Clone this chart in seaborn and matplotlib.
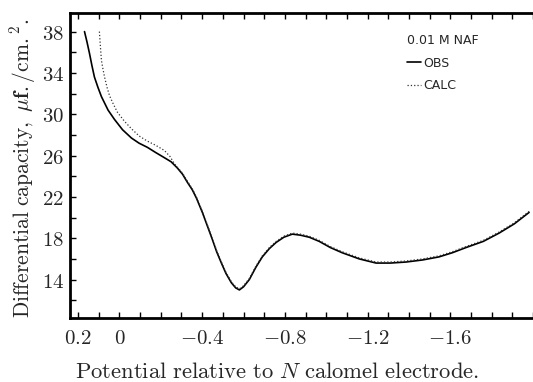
import matplotlib
matplotlib.use("Agg")
import matplotlib.pyplot as plt
from matplotlib.ticker import FixedLocator, MultipleLocator
import seaborn as sns
import pandas as pd

# observed curve (potential vs N calomel, capacity uF/cm2)
obs_potential = [0.169, 0.157, 0.145, 0.133, 0.121, 0.104, 0.087, 0.055, 0.024,
                 -0.015, -0.058, -0.095, -0.135, -0.175, -0.217, -0.250, -0.280,
                 -0.305, -0.329, -0.352, -0.372, -0.401, -0.425, -0.449, -0.470,
                 -0.493, -0.515, -0.541, -0.562, -0.580, -0.600, -0.628, -0.660,
                 -0.691, -0.725, -0.758, -0.795, -0.836, -0.875, -0.918, -0.966,
                 -1.020, -1.077, -1.160, -1.241, -1.310, -1.386, -1.466, -1.546,
                 -1.610, -1.676, -1.760, -1.836, -1.910, -1.981]
obs_capacity = [38.0, 37.0, 35.9, 34.7, 33.6, 32.6, 31.7, 30.4, 29.5,
                28.5, 27.7, 27.2, 26.8, 26.3, 25.8, 25.4, 24.8,
                24.2, 23.4, 22.7, 21.9, 20.5, 19.2, 17.9, 16.7,
                15.6, 14.6, 13.7, 13.2, 13.0, 13.3, 14.0, 15.2,
                16.2, 17.0, 17.6, 18.1, 18.4, 18.3, 18.1, 17.7,
                17.1, 16.6, 16.0, 15.6, 15.6, 15.7, 15.9, 16.2,
                16.6, 17.1, 17.7, 18.5, 19.4, 20.5]

# calculated curve
calc_potential = [0.097, 0.092, 0.087, 0.080, 0.072, 0.060, 0.048, 0.030, 0.010,
                  -0.025, -0.058, -0.095, -0.135, -0.175, -0.217, -0.245, -0.266,
                  -0.305, -0.329, -0.352, -0.372, -0.401, -0.425, -0.449, -0.470,
                  -0.493, -0.515, -0.541, -0.562, -0.580, -0.600, -0.628, -0.660,
                  -0.691, -0.725, -0.758, -0.795, -0.836, -0.875, -0.918, -0.966,
                  -1.020, -1.077, -1.160, -1.241, -1.310, -1.386, -1.466, -1.546,
                  -1.610, -1.676, -1.760, -1.836, -1.910, -1.981]
calc_capacity = [38.0, 36.5, 35.2, 34.4, 33.6, 32.6, 31.8, 31.0, 30.2,
                 29.3, 28.6, 27.9, 27.4, 27.0, 26.5, 25.9, 25.2,
                 24.3, 23.5, 22.8, 22.0, 20.6, 19.3, 18.0, 16.8,
                 15.7, 14.7, 13.8, 13.3, 13.1, 13.4, 14.1, 15.3,
                 16.3, 17.1, 17.7, 18.2, 18.5, 18.4, 18.2, 17.8,
                 17.2, 16.7, 16.1, 15.7, 15.7, 15.8, 16.0, 16.3,
                 16.7, 17.2, 17.8, 18.6, 19.5, 20.6]

xtick_values = [0.2, 0, -0.4, -0.8, -1.2, -1.6]
xtick_labels = [r"$0.2$", r"$0$", r"$-0.4$", r"$-0.8$", r"$-1.2$", r"$-1.6$"]
ytick_values = [14, 18, 22, 26, 30, 34, 38]

sns.set_style("ticks")
plt.rcParams["font.family"] = ["DejaVu Sans"]
plt.rcParams["mathtext.fontset"] = "cm"

obs = pd.DataFrame({"E": obs_potential, "C": obs_capacity})
calc = pd.DataFrame({"E": calc_potential, "C": calc_capacity})

fig = plt.figure(figsize=(5.33, 3.82), dpi=100)
ax = fig.add_axes([0.131, 0.168, 0.869, 0.798])

sns.lineplot(data=obs, x="E", y="C", sort=False, estimator=None, ax=ax,
             color="black", linewidth=1.2, label="OBS")
sns.lineplot(data=calc, x="E", y="C", sort=False, estimator=None, ax=ax,
             color="#333333", linewidth=0.9, linestyle=":", label="CALC")

ax.set_xlim(0.24, -2.0)
ax.set_ylim(10.3, 39.8)

ax.xaxis.set_major_locator(FixedLocator(xtick_values))
ax.xaxis.set_minor_locator(MultipleLocator(0.1))
ax.set_xticklabels(xtick_labels)
ax.yaxis.set_major_locator(FixedLocator(ytick_values))
ax.yaxis.set_minor_locator(MultipleLocator(2))
ax.set_yticklabels([r"$%d$" % v for v in ytick_values])

ax.tick_params(which="both", direction="in", top=True, bottom=True, left=True,
               right=False, length=4, width=1, color="black")
ax.tick_params(axis="x", which="major", labelsize=15, pad=7)
ax.tick_params(axis="y", which="major", labelsize=15, pad=4)

for side in ["left", "bottom", "top"]:
    ax.spines[side].set_linewidth(2)
    ax.spines[side].set_color("black")
ax.spines["right"].set_visible(False)

ax.set_xlabel(r"$\mathrm{Potential\ relative\ to\ }N\mathrm{\ calomel\ electrode.}$",
              fontsize=16.3)
ax.xaxis.set_label_coords(0.447, -0.138)
ax.set_ylabel(r"$\mathrm{Differential\ capacity,\ }\mathbf{\mu f.}\mathrm{/cm.}^{2}\mathrm{.}$",
              fontsize=15.5)
ax.yaxis.set_label_coords(-0.068, 0.49)

leg = ax.legend(title="0.01 M NAF", loc="upper left", bbox_to_anchor=(0.728, 0.93),
                frameon=False, fontsize=9, title_fontsize=9, handlelength=1.1,
                handletextpad=0.2, labelspacing=0.75, borderaxespad=0,
                borderpad=0)
leg._legend_box.align = "left"

fig.savefig("out.png", dpi=100)
plt.close(fig)
